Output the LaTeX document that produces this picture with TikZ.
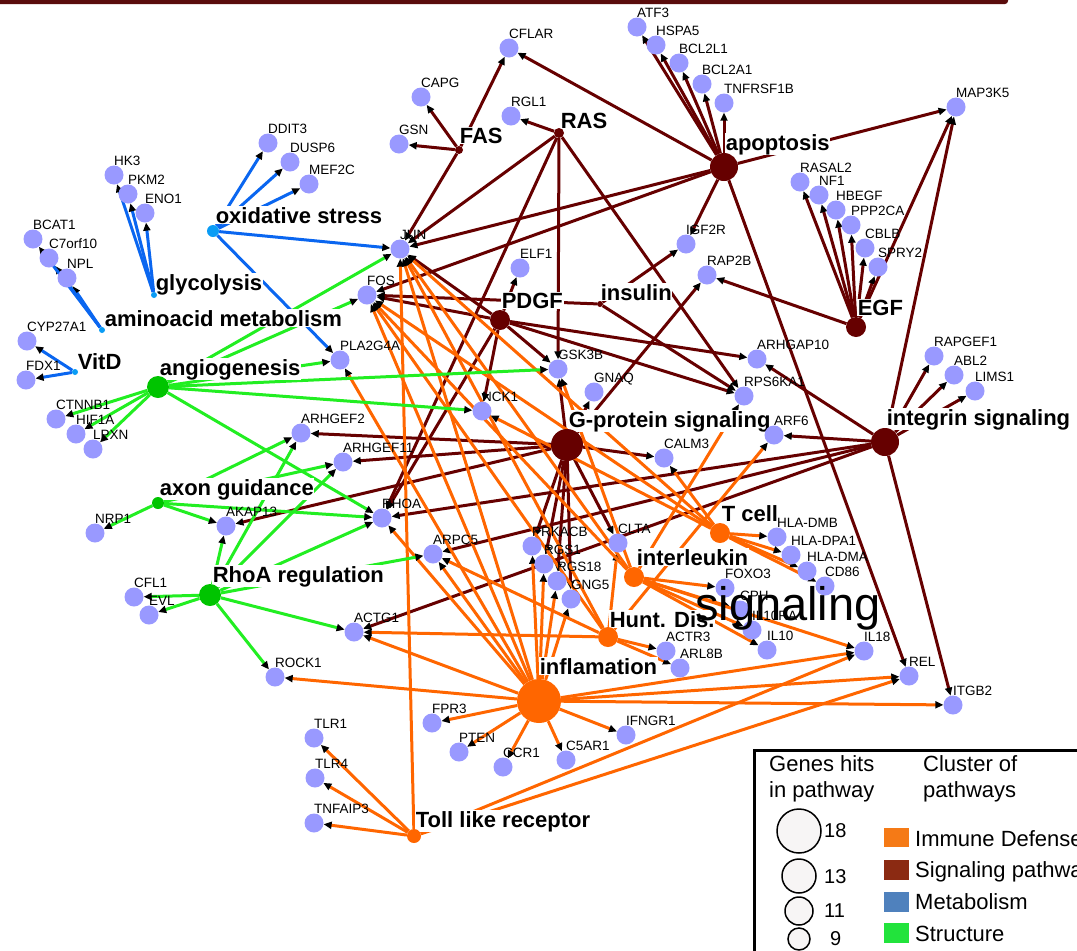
\documentclass[tikz,border=0pt]{standalone}
\usepackage{fontspec}
\setmainfont{Liberation Sans}
\usetikzlibrary{arrows.meta}
\pgfdeclarelayer{bg}
\pgfdeclarelayer{glab}
\pgfdeclarelayer{edges}
\pgfdeclarelayer{hlab}
\pgfdeclarelayer{top}
\pgfsetlayers{bg,edges,hlab,glab,main,top}
\definecolor{sigc}{HTML}{660000}
\definecolor{immc}{HTML}{FF6600}
\definecolor{metc}{HTML}{0A66F0}
\definecolor{metH}{HTML}{0A9CF5}
\definecolor{strc}{HTML}{22EE22}
\definecolor{strH}{HTML}{00C400}
\definecolor{genec}{HTML}{9999FF}
\definecolor{bandc}{HTML}{5A0C0C}
\definecolor{legImm}{HTML}{F57A16}
\definecolor{legSig}{HTML}{8B2A12}
\definecolor{legMet}{HTML}{4F81BD}
\definecolor{legStr}{HTML}{22E33C}
\definecolor{legCirc}{HTML}{F7F5F5}
\tikzset{
  gene/.style={circle,fill=genec,minimum size=19pt,inner sep=0pt},
  glabel/.style={anchor=base west,inner sep=0pt,font=\fontsize{13.5}{15}\selectfont},
  hlabel/.style={anchor=base west,inner sep=0.6pt,fill=white,font=\fontsize{22}{24}\selectfont\bfseries},
  link/.style={line width=3pt,-{Triangle[length=8pt,width=7pt,color=black]}},
  sig/.style={link,draw=sigc},
  imm/.style={link,draw=immc},
  met/.style={link,draw=metc},
  stru/.style={link,draw=strc},
  legtext/.style={anchor=base west,inner sep=0pt,font=\fontsize{22}{24}\selectfont},
  legnum/.style={anchor=base west,inner sep=0pt,font=\fontsize{20}{22}\selectfont},
}
\newcommand\genenode[4]{\node[gene] (#1) at (#2,#3) {};
  \begin{pgfonlayer}{glab}\node[glabel] at (#2,#3-10) {#4};\end{pgfonlayer}}
\newcommand\hubnode[5]{\node[circle,fill=#5,minimum size=#4pt,inner sep=0pt] (#1) at (#2,#3) {};}
\newcommand\hublabel[3]{\begin{pgfonlayer}{hlab}\node[hlabel] at (#1,#2) {#3};\end{pgfonlayer}}
\newcommand\links[3]{\begin{pgfonlayer}{edges}\foreach \tgt in {#3}{\draw[#1] (#2) -- (\tgt);}\end{pgfonlayer}}
\begin{document}
\begin{tikzpicture}[x=1pt,y=-1pt]
\useasboundingbox (0,0) rectangle (1077,951);
\begin{pgfonlayer}{bg}
\fill[white] (0,0) rectangle (1077,951);
\fill[bandc,rounded corners=3pt] (-6,-6) rectangle (1008,4);
\end{pgfonlayer}
% hubs
\hubnode{oxs}{213}{231}{12}{metH}
\hubnode{gly}{154}{295}{6}{metH}
\hubnode{amino}{102}{330}{6}{metH}
\hubnode{vitd}{75}{372}{6}{metH}
\hubnode{angio}{158}{387}{22}{strH}
\hubnode{axon}{158}{503}{12}{strH}
\hubnode{rreg}{210}{595}{22}{strH}
\hubnode{fas}{459}{150}{8}{sigc}
\hubnode{ras}{559}{133}{10}{sigc}
\hubnode{apop}{724}{167}{28}{sigc}
\hubnode{pdgf}{500}{320}{20}{sigc}
\hubnode{ins}{600}{304}{6}{sigc}
\hubnode{egf}{856}{327}{20}{sigc}
\hubnode{gprot}{567}{445}{32}{sigc}
\hubnode{integ}{885}{442}{28}{sigc}
\hubnode{tcell}{720}{533}{20}{immc}
\hubnode{ilk}{634}{577}{20}{immc}
\hubnode{hunt}{608}{637}{20}{immc}
\hubnode{infl}{539}{701}{44}{immc}
\hubnode{toll}{414}{836}{14}{immc}
% hub labels
\hublabel{215}{223}{oxidative stress}
\hublabel{155}{290}{glycolysis}
\hublabel{104}{326}{aminoacid metabolism}
\hublabel{77}{369}{VitD}
\hublabel{159}{375}{angiogenesis}
\hublabel{159}{495}{axon guidance}
\hublabel{212}{582}{RhoA regulation}
\hublabel{459}{143}{FAS}
\hublabel{560}{128}{RAS}
\hublabel{501}{308}{PDGF}
\hublabel{600}{300}{insulin}
\hublabel{725}{150}{apoptosis}
\hublabel{857}{315}{EGF}
\hublabel{568}{427}{G-protein signaling}
\hublabel{886}{425}{integrin signaling}
\hublabel{721}{521}{T cell}
\hublabel{636}{565}{interleukin}
\hublabel{609}{627}{Hunt. Dis.}
\hublabel{539}{674}{inflamation}
\hublabel{415}{827}{Toll like receptor}
% genes
\genenode{DDIT3}{268}{143}{DDIT3}
\genenode{DUSP6}{290}{162}{DUSP6}
\genenode{MEF2C}{309}{184}{MEF2C}
\genenode{HK3}{114}{175}{HK3}
\genenode{PKM2}{128}{194}{PKM2}
\genenode{ENO1}{145}{213}{ENO1}
\genenode{BCAT1}{33}{239}{BCAT1}
\genenode{C7orf10}{49}{258}{C7orf10}
\genenode{NPL}{67}{278}{NPL}
\genenode{CYP27A1}{27}{341}{CYP27A1}
\genenode{FDX1}{26}{380}{FDX1}
\genenode{CTNNB1}{56}{419}{CTNNB1}
\genenode{HIF1A}{76}{434}{HIF1A}
\genenode{LPXN}{93}{449}{LPXN}
\genenode{ARHGEF2}{301}{433}{ARHGEF2}
\genenode{ARHGEF11}{343}{462}{ARHGEF11}
\genenode{NRP1}{95}{533}{NRP1}
\genenode{AKAP13}{226}{526}{AKAP13}
\genenode{CFL1}{134}{597}{CFL1}
\genenode{EVL}{149}{615}{EVL}
\genenode{ACTG1}{354}{632}{ACTG1}
\genenode{PLA2G4A}{340}{360}{PLA2G4A}
\genenode{ROCK1}{275}{677}{ROCK1}
\genenode{TLR1}{314}{738}{TLR1}
\genenode{TLR4}{315}{778}{TLR4}
\genenode{TNFAIP3}{314}{823}{TNFAIP3}
\genenode{FPR3}{432}{723}{FPR3}
\genenode{PTEN}{459}{752}{PTEN}
\genenode{CCR1}{503}{767}{CCR1}
\genenode{C5AR1}{566}{760}{C5AR1}
\genenode{IFNGR1}{626}{735}{IFNGR1}
\genenode{ACTR3}{666}{651}{ACTR3}
\genenode{ARL8B}{680}{668}{ARL8B}
\genenode{IL10}{767}{650}{IL10}
\genenode{IL18}{864}{651}{IL18}
\genenode{REL}{909}{676}{REL}
\genenode{ITGB2}{953}{705}{ITGB2}
\genenode{CFLAR}{509}{48}{CFLAR}
\genenode{CAPG}{421}{97}{CAPG}
\genenode{GSN}{399}{144}{GSN}
\genenode{RGL1}{511}{116}{RGL1}
\genenode{ATF3}{637}{27}{ATF3}
\genenode{HSPA5}{656}{45}{HSPA5}
\genenode{BCL2L1}{679}{63}{BCL2L1}
\genenode{BCL2A1}{702}{84}{BCL2A1}
\genenode{TNFRSF1B}{724}{103}{TNFRSF1B}
\genenode{JUN}{400}{249}{JUN}
\genenode{ELF1}{520}{268}{ELF1}
\genenode{FOS}{367}{295}{FOS}
\genenode{IGF2R}{686}{244}{IGF2R}
\genenode{RAP2B}{707}{275}{RAP2B}
\genenode{MAP3K5}{956}{107}{MAP3K5}
\genenode{RASAL2}{800}{182}{RASAL2}
\genenode{NF1}{819}{195}{NF1}
\genenode{HBEGF}{836}{210}{HBEGF}
\genenode{PPP2CA}{851}{225}{PPP2CA}
\genenode{CBLB}{865}{248}{CBLB}
\genenode{SPRY2}{878}{267}{SPRY2}
\genenode{ARHGAP10}{757}{359}{ARHGAP10}
\genenode{RPS6KA1}{744}{396}{RPS6KA1}
\genenode{ARF6}{774}{435}{ARF6}
\genenode{RAPGEF1}{934}{356}{RAPGEF1}
\genenode{ABL2}{954}{375}{ABL2}
\genenode{LIMS1}{975}{391}{LIMS1}
\genenode{HLADMB}{777}{537}{HLA-DMB}
\genenode{HLADPA1}{791}{555}{HLA-DPA1}
\genenode{HLADMA}{807}{571}{HLA-DMA}
\genenode{CD86}{825}{586}{CD86}
\genenode{FOXO3}{725}{588}{FOXO3}
\genenode{CPH}{740}{610}{CPH}
\genenode{IL10RA}{752}{630}{IL10RA}
\genenode{GSK3B}{558}{369}{GSK3B}
\genenode{GNAQ}{594}{392}{GNAQ}
\genenode{NCK1}{482}{411}{NCK1}
\genenode{CALM3}{664}{458}{CALM3}
\genenode{RHOA}{382}{518}{RHOA}
\genenode{ARPC5}{433}{554}{ARPC5}
\genenode{PRKACB}{532}{546}{PRKACB}
\genenode{RGS1}{544}{564}{RGS1}
\genenode{RGS18}{557}{581}{RGS18}
\genenode{GNG5}{571}{599}{GNG5}
\genenode{CLTA}{618}{543}{CLTA}
% edges
\links{met}{oxs}{DDIT3,DUSP6,MEF2C,JUN,PLA2G4A}
\links{met}{gly}{HK3,PKM2,ENO1}
\links{met}{amino}{NPL,C7orf10,BCAT1}
\links{met}{vitd}{CYP27A1,FDX1}
\links{sig}{fas}{CAPG,GSN,CFLAR,JUN}
\links{sig}{ras}{RGL1,JUN,RHOA,GSK3B,RPS6KA1}
\links{sig}{apop}{ATF3,HSPA5,BCL2L1,BCL2A1,TNFRSF1B,CFLAR,MAP3K5,JUN,FOS,IGF2R,REL}
\links{sig}{pdgf}{ELF1,FOS,JUN,GSK3B,NCK1,RHOA,ARHGAP10,RPS6KA1}
\links{sig}{ins}{FOS,IGF2R,RPS6KA1}
\links{sig}{egf}{RASAL2,NF1,HBEGF,PPP2CA,CBLB,SPRY2,MAP3K5,RAP2B}
\links{sig}{gprot}{GSK3B,GNAQ,CALM3,CLTA,PRKACB,RGS1,RGS18,GNG5,ARHGEF2,ARHGEF11,AKAP13,RAP2B}
\links{sig}{integ}{ARF6,ARHGAP10,RAPGEF1,ABL2,LIMS1,ITGB2,MAP3K5,RHOA,ARPC5,ACTG1}
\links{imm}{infl}{ACTG1,ROCK1,FPR3,PTEN,CCR1,C5AR1,IFNGR1,IL18,REL,ITGB2,PRKACB,RGS1,RGS18,GNG5,ARPC5,RHOA,JUN,FOS,PLA2G4A}
\links{imm}{hunt}{ACTR3,ARL8B,ACTG1,ARPC5,CLTA,ARF6,JUN,FOS}
\links{imm}{ilk}{FOXO3,CPH,IL10RA,IL10,IL18,GSK3B,JUN,FOS,RPS6KA1}
\links{imm}{tcell}{HLADMB,HLADPA1,HLADMA,CD86,CALM3,NCK1,JUN,FOS}
\links{imm}{toll}{TLR1,TLR4,TNFAIP3,JUN,IL18,REL}
\links{stru}{angio}{CTNNB1,HIF1A,LPXN,JUN,FOS,PLA2G4A,GSK3B,NCK1,RHOA}
\links{stru}{axon}{NRP1,AKAP13,ARHGEF2,ARHGEF11,RHOA}
\links{stru}{rreg}{CFL1,EVL,AKAP13,ARHGEF2,ARHGEF11,RHOA,ARPC5,ACTG1,ROCK1}
% stray label
\begin{pgfonlayer}{top}
\node[anchor=base west,inner sep=0pt,font=\fontsize{47}{50}\selectfont] (bigsig) at (695,620) {signaling};
\end{pgfonlayer}
% legend
\draw[line width=3pt] (1085,750) -- (754,750) -- (754,960);
\node[legtext] (lg1) at (769,771) {Genes hits};
\node[legtext] (lg2) at (769,797) {in pathway};
\node[legtext] (lg3) at (923,771) {Cluster of};
\node[legtext] (lg4) at (923,797) {pathways};
\draw[fill=legCirc,line width=1.5pt] (799,831) circle (22pt);
\draw[fill=legCirc,line width=1.5pt] (799,876) circle (17pt);
\draw[fill=legCirc,line width=1.5pt] (799,911) circle (14pt);
\draw[fill=legCirc,line width=1.5pt] (799,939) circle (11pt);
\node[legnum] (n18) at (824,837) {18};
\node[legnum] (n13) at (824,883) {13};
\node[legnum] (n11) at (824,917) {11};
\node[legnum] (n9) at (830,945) {9};
\fill[legImm] (884,828) rectangle (909,847);
\fill[legSig] (884,860) rectangle (909,880);
\fill[legMet] (884,892) rectangle (909,912);
\fill[legStr] (884,923) rectangle (909,943);
\node[legtext] (c1) at (915,846) {Immune Defense};
\node[legtext] (c2) at (915,877) {Signaling pathway};
\node[legtext] (c3) at (915,909) {Metabolism};
\node[legtext] (c4) at (915,941) {Structure};
\end{tikzpicture}
\end{document}
